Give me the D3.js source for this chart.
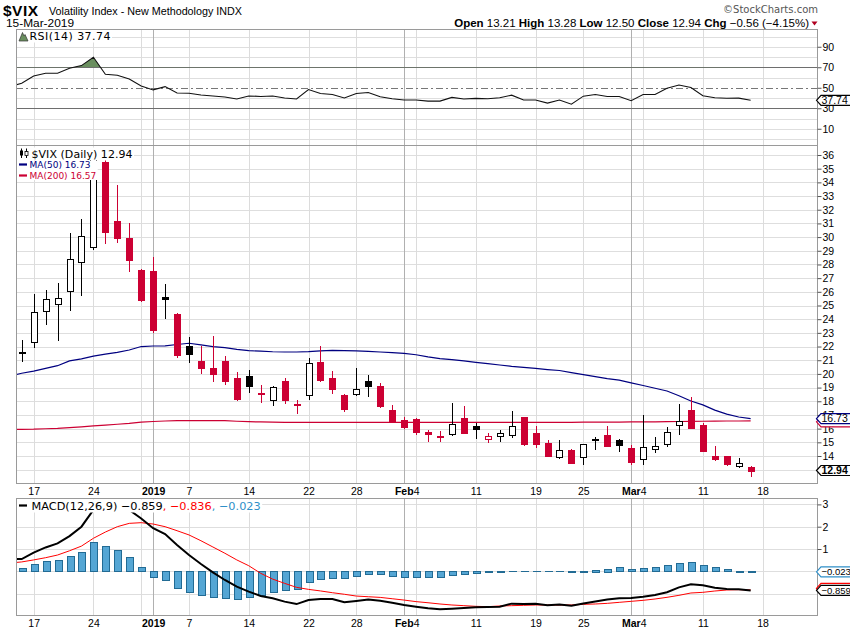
<!DOCTYPE html>
<html>
<head>
<meta charset="utf-8">
<script src="https://cdn.jsdelivr.net/npm/d3@7"></script>
<style>
  body { margin: 0; background: #fff; }
  svg { display: block; }
  .ax text { font-family: "Liberation Sans", Arial, sans-serif; font-size: 10.5px; fill: #000; }
  .lg { font-family: "DejaVu Sans", Verdana, sans-serif; }
  .hd { font-family: "Liberation Sans", Arial, sans-serif; }
</style>
</head>
<body>
<svg id="chart" width="850" height="633"></svg>
<script>
// trading days shown (Dec 13 only feeds the lines that enter from the left edge)
const dates = [
  "2018-12-13","2018-12-14","2018-12-17","2018-12-18","2018-12-19","2018-12-20","2018-12-21","2018-12-24","2018-12-26","2018-12-27",
  "2018-12-28","2018-12-31","2019-01-02","2019-01-03","2019-01-04","2019-01-07","2019-01-08","2019-01-09","2019-01-10","2019-01-11",
  "2019-01-14","2019-01-15","2019-01-16","2019-01-17","2019-01-18","2019-01-22","2019-01-23","2019-01-24","2019-01-25","2019-01-28",
  "2019-01-29","2019-01-30","2019-01-31","2019-02-01","2019-02-04","2019-02-05","2019-02-06","2019-02-07","2019-02-08","2019-02-11",
  "2019-02-12","2019-02-13","2019-02-14","2019-02-15","2019-02-19","2019-02-20","2019-02-21","2019-02-22","2019-02-25","2019-02-26",
  "2019-02-27","2019-02-28","2019-03-01","2019-03-04","2019-03-05","2019-03-06","2019-03-07","2019-03-08","2019-03-11","2019-03-12",
  "2019-03-13","2019-03-14","2019-03-15"
];
// empty slots at the right end of the time axis
const futureDays = ["2019-03-18","2019-03-19","2019-03-20","2019-03-21","2019-03-22"];

const open = [
  null, 21.6, 22.32, 24.63, 25.11, 26.04, 28.23, 29.26, 35.52, 31.21,
  29.94, 27.6, 27.5, 25.62, 24.38, 22.02, 20.97, 20.43, 20.97, 19.7,
  19.83, 18.62, 18.07, 19.48, 17.82, 18.48, 20.87, 19.7, 18.46, 18.51,
  19.48, 19.12, 17.36, 16.66, 16.71, 15.73, 15.43, 15.66, 16.78, 16.2,
  15.2, 15.44, 15.59, 16.85, 15.69, 14.95, 13.98, 14.44, 13.91, 15.22,
  15.54, 15.17, 14.59, 13.76, 14.49, 14.83, 16.32, 17.34, 16.25, 13.98,
  13.98, 13.27, 13.21
];
const high = [
  null, 22.45, 25.85, 26.14, 26.65, 30.31, 31.33, 36.2, 35.78, 33.84,
  31.04, 27.68, 28.58, 26.58, 24.46, 22.68, 22.07, 22.8, 21.28, 20.12,
  20.31, 19.19, 19.1, 19.7, 18.12, 21.17, 22.02, 20.21, 18.5, 20.43,
  19.92, 19.34, 17.73, 16.88, 16.75, 15.93, 15.85, 17.9, 17.66, 16.39,
  15.68, 15.88, 17.28, 16.88, 16.17, 15.17, 15.17, 14.48, 14.9, 15.37,
  16.2, 15.25, 14.81, 17.03, 15.37, 16.1, 17.81, 18.29, 16.42, 14.71,
  14.02, 13.83, 13.28
];
const low = [
  null, 20.85, 21.88, 23.6, 22.43, 24.63, 25.68, 29.08, 29.48, 29.58,
  27.43, 25.28, 22.98, 23.98, 21.15, 20.8, 20.0, 19.44, 19.19, 18.05,
  18.63, 17.9, 17.68, 17.83, 17.1, 18.12, 19.44, 18.56, 17.24, 18.36,
  18.34, 17.49, 16.54, 16.0, 15.56, 15.0, 15.05, 15.49, 15.61, 15.27,
  14.93, 15.0, 15.3, 14.76, 14.59, 13.96, 13.81, 13.44, 13.37, 14.47,
  14.69, 14.32, 13.37, 13.37, 14.25, 14.68, 15.54, 15.98, 14.32, 13.62,
  13.25, 13.15, 12.50
];
const close = [
  null, 21.63, 24.52, 25.5, 25.55, 28.38, 30.11, 36.07, 30.41, 29.96,
  28.34, 25.42, 23.22, 25.45, 21.38, 21.4, 20.47, 19.98, 19.5, 18.19,
  19.07, 18.6, 19.04, 18.06, 17.8, 20.8, 19.52, 18.89, 17.42, 18.87,
  19.13, 17.66, 16.57, 16.14, 15.73, 15.57, 15.38, 16.37, 15.72, 15.97,
  15.43, 15.65, 16.22, 14.91, 14.88, 14.02, 14.46, 13.51, 14.85, 15.17,
  14.7, 14.78, 13.57, 14.63, 14.74, 15.74, 16.59, 16.05, 14.33, 13.77,
  13.41, 13.5, 12.94
];
const ma50 = [
  19.85, 20.05, 20.2, 20.4, 20.6, 20.95, 21.1, 21.3, 21.45, 21.58,
  21.75, 22.0, 22.04, 22.05, 22.15, 22.24, 22.12, 22.0, 21.92, 21.8,
  21.7, 21.66, 21.62, 21.6, 21.6, 21.63, 21.68, 21.72, 21.7, 21.68,
  21.65, 21.6, 21.55, 21.5, 21.4, 21.25, 21.12, 21.04, 20.95, 20.85,
  20.75, 20.65, 20.55, 20.48, 20.4, 20.32, 20.25, 20.1, 19.95, 19.8,
  19.65, 19.55, 19.35, 19.15, 18.95, 18.75, 18.4, 18.02, 17.74, 17.35,
  17.06, 16.85, 16.73
];
const ma200 = [
  15.95, 15.95, 15.96, 15.99, 16.02, 16.07, 16.13, 16.2, 16.26, 16.32,
  16.38, 16.47, 16.52, 16.56, 16.58, 16.59, 16.59, 16.59, 16.58, 16.54,
  16.51, 16.49, 16.47, 16.46, 16.46, 16.46, 16.46, 16.46, 16.46, 16.46,
  16.46, 16.46, 16.46, 16.46, 16.46, 16.46, 16.46, 16.46, 16.46, 16.46,
  16.46, 16.46, 16.46, 16.46, 16.46, 16.46, 16.46, 16.46, 16.47, 16.47,
  16.48, 16.48, 16.49, 16.5, 16.5, 16.51, 16.52, 16.53, 16.54, 16.55,
  16.56, 16.56, 16.57
];
const rsi = [
  51, 54.4, 61.5, 64.1, 64.1, 69, 71.6, 79.8, 63.2, 62.2,
  58.6, 51.8, 47.9, 51.1, 44.9, 44.6, 43, 42, 41, 39,
  42, 41.5, 42, 40, 39, 48.2, 44.4, 43.4, 40, 44.4,
  45.4, 41.2, 39.3, 38, 38, 37, 37, 40.6, 39, 39.6,
  39.3, 40.2, 42.8, 38, 38, 35, 38, 34, 41.8, 43.4,
  41.5, 41.5, 37.4, 43.4, 43.4, 49.5, 52.7, 50.2, 42.2, 40.2,
  39.8, 39.9, 37.74
];
const macd = [
  0.55, 0.55, 0.84, 1.07, 1.25, 1.58, 2.0, 2.75, 2.88, 2.94,
  2.75, 2.37, 1.93, 1.67, 1.18, 0.73, 0.33, -0.05, -0.39, -0.69,
  -0.91, -1.11, -1.21, -1.36, -1.47, -1.29, -1.24, -1.24, -1.39, -1.33,
  -1.26, -1.32, -1.41, -1.51, -1.59, -1.66, -1.705, -1.675, -1.645, -1.615,
  -1.6, -1.586, -1.45, -1.47, -1.45, -1.52, -1.49, -1.54, -1.44, -1.35,
  -1.26, -1.21, -1.2, -1.14, -1.06, -0.94, -0.72, -0.585, -0.63, -0.74,
  -0.79, -0.8, -0.859
];
const signal = [
  0.37, 0.42, 0.51, 0.61, 0.73, 0.92, 1.13, 1.48, 1.76, 2.0,
  2.15, 2.18, 2.12, 2.0, 1.82, 1.63, 1.37, 1.09, 0.81, 0.51,
  0.25, -0.09, -0.35, -0.54, -0.72, -0.81, -0.88, -0.96, -1.03, -1.11,
  -1.14, -1.17, -1.23, -1.29, -1.36, -1.41, -1.466, -1.511, -1.541, -1.571,
  -1.586, -1.556, -1.541, -1.526, -1.511, -1.511, -1.511, -1.511, -1.481, -1.466,
  -1.437, -1.392, -1.347, -1.302, -1.242, -1.167, -1.078, -0.973, -0.943, -0.884,
  -0.839, -0.824, -0.836
];
const hist = [
  null, 0.13, 0.31, 0.45, 0.49, 0.69, 0.85, 1.3, 1.12, 0.94,
  0.64, 0.18, -0.27, -0.4, -0.76, -0.94, -1.08, -1.17, -1.21, -1.26,
  -1.17, -1.08, -0.94, -0.85, -0.81, -0.49, -0.35, -0.3, -0.3, -0.21,
  -0.12, -0.12, -0.21, -0.27, -0.27, -0.27, -0.27, -0.16, -0.12, -0.07,
  -0.04, -0.03, -0.01, 0, 0, -0.005, -0.01, -0.03, 0.03, 0.07,
  0.12, 0.18, 0.09, 0.13, 0.18, 0.27, 0.36, 0.42, 0.27, 0.18,
  0.09, 0.03, -0.023
];

// time axis ticks and grid
const tickDates  = ["2018-12-17","2018-12-24","2019-01-02","2019-01-07","2019-01-14","2019-01-22","2019-01-28",
                    "2019-02-04","2019-02-11","2019-02-19","2019-02-25","2019-03-04","2019-03-11","2019-03-18"];
const tickLabels = ["17","24","2019","7","14","22","28","4","11","19","25","4","11","18"];
const tickPrefix = ["","","","","","","","Feb","","","","Mar","",""];
const weekLines  = ["2018-12-17","2018-12-24","2018-12-31","2019-01-07","2019-01-14","2019-01-22","2019-01-28",
                    "2019-02-04","2019-02-11","2019-02-19","2019-02-25","2019-03-04","2019-03-11","2019-03-18"];
const monthLines = ["2019-01-02","2019-02-01","2019-03-01"];

const priceGrid = d3.range(13, 37);
const priceTicks = d3.range(14, 37);   // 13 sits under the last-close tag
const rsiGrid = d3.range(0, 101, 10);
const rsiTicks = [10, 30, 50, 70, 90];
const macdGrid = [-1, 0, 1, 2, 3];
const macdTicks = [1, 2, 3];

const RED = "#cc0033", NAVY = "#000080", HIST = "#55a6d4", HIST_EDGE = "#226b94";
const X0 = 16, X1 = 818;
const P = {
  rsi:  { top: 29.5,  bottom: 145.5 },
  main: { top: 145.5, bottom: 483.5 },
  macd: { top: 498.5, bottom: 615.5 }
};

const svg = d3.select("#chart");
const defs = svg.append("defs");

const x = d3.scalePoint().domain(dates.concat(futureDays)).range([9.75, 810.4]);
const yRsi = d3.scaleLinear().domain([0, 100]).range([139, 36.5]);
const yPx = d3.scaleLinear().domain([14, 36]).range([456, 155]);
const yMacd = d3.scaleLinear().domain([0, 3]).range([571.3, 504.4]);
const xs = d => Math.round(x(d)) + 0.5;

function clip(id, p) {
  defs.append("clipPath").attr("id", id).append("rect")
    .attr("x", X0).attr("y", p.top).attr("width", X1 - X0).attr("height", p.bottom - p.top);
  return `url(#${id})`;
}

// panel grid
function grid(p, yScale, values) {
  const g = svg.append("g").attr("shape-rendering", "crispEdges");
  g.selectAll(".h").data(values).join("line")
    .attr("x1", X0).attr("x2", X1)
    .attr("y1", d => Math.round(yScale(d)) + 0.5).attr("y2", d => Math.round(yScale(d)) + 0.5)
    .attr("stroke", "#dedede");
  g.selectAll(".w").data(weekLines).join("line")
    .attr("x1", xs).attr("x2", xs).attr("y1", p.top).attr("y2", p.bottom)
    .attr("stroke", "#dcdcdc");
  g.selectAll(".m").data(monthLines).join("line")
    .attr("x1", xs).attr("x2", xs).attr("y1", p.top).attr("y2", p.bottom)
    .attr("stroke", "#b0b0b0");
}
grid(P.rsi, yRsi, rsiGrid.filter(v => v !== 30 && v !== 50 && v !== 70));
grid(P.main, yPx, priceGrid);
grid(P.macd, yMacd, macdGrid);

// ---- RSI panel
const rsiG = svg.append("g").attr("clip-path", clip("cRsi", P.rsi));
[30, 70].forEach(v => rsiG.append("line")
  .attr("x1", X0).attr("x2", X1).attr("y1", Math.round(yRsi(v)) + 0.5).attr("y2", Math.round(yRsi(v)) + 0.5)
  .attr("stroke", "#6e6e6e").attr("shape-rendering", "crispEdges"));
rsiG.append("line")
  .attr("x1", X0).attr("x2", X1).attr("y1", Math.round(yRsi(50)) + 0.5).attr("y2", Math.round(yRsi(50)) + 0.5)
  .attr("stroke", "#777").attr("stroke-dasharray", "7,3,2,3").attr("shape-rendering", "crispEdges");

defs.append("clipPath").attr("id", "cOver").append("rect")
  .attr("x", X0).attr("y", P.rsi.top).attr("width", X1 - X0).attr("height", yRsi(70) - P.rsi.top);
rsiG.append("path").datum(rsi)
  .attr("clip-path", "url(#cOver)")
  .attr("fill", "#6a8f5f")
  .attr("d", d3.area().x((d, i) => x(dates[i])).y0(yRsi(70)).y1(d => yRsi(d)));
rsiG.append("path").datum(rsi)
  .attr("fill", "none").attr("stroke", "#111").attr("stroke-width", 1.1)
  .attr("d", d3.line().x((d, i) => x(dates[i])).y(d => yRsi(d)));

// ---- price panel
const mainG = svg.append("g").attr("clip-path", clip("cMain", P.main));
mainG.append("path").datum(ma200)
  .attr("fill", "none").attr("stroke", RED).attr("stroke-width", 1.2)
  .attr("d", d3.line().x((d, i) => x(dates[i])).y(d => yPx(d)));
mainG.append("path").datum(ma50)
  .attr("fill", "none").attr("stroke", NAVY).attr("stroke-width", 1.2)
  .attr("d", d3.line().x((d, i) => x(dates[i])).y(d => yPx(d)));

const candles = dates.map((d, i) => ({ d, o: open[i], h: high[i], l: low[i], c: close[i], pc: i > 0 ? close[i - 1] : null }))
  .filter(c => c.o != null);
const cg = mainG.selectAll(".candle").data(candles).join("g").attr("shape-rendering", "crispEdges");
const candleColor = c => (c.pc == null || c.c >= c.pc) ? "#000" : RED;
cg.append("line")
  .attr("x1", c => xs(c.d)).attr("x2", c => xs(c.d))
  .attr("y1", c => yPx(c.h)).attr("y2", c => yPx(c.l))
  .attr("stroke", candleColor);
cg.append("rect")
  .attr("x", c => xs(c.d) - 3).attr("width", 6)
  .attr("y", c => Math.round(yPx(Math.max(c.o, c.c))) + 0.5)
  .attr("height", c => Math.max(1, Math.round(Math.abs(yPx(c.o) - yPx(c.c)))))
  .attr("fill", c => c.c > c.o ? "#fff" : candleColor(c))
  .attr("stroke", candleColor);

// ---- MACD panel
const macdG = svg.append("g").attr("clip-path", clip("cMacd", P.macd));
const bars = hist.map((v, i) => ({ d: dates[i], v })).filter(b => b.v != null);
macdG.selectAll(".bar").data(bars).join("rect")
  .attr("shape-rendering", "crispEdges")
  .attr("x", b => xs(b.d) - 3.5).attr("width", 7)
  .attr("y", b => Math.round(Math.min(yMacd(b.v), yMacd(0))) + 0.5)
  .attr("height", b => Math.max(0.01, Math.round(Math.abs(yMacd(b.v) - yMacd(0)))))
  .attr("fill", HIST).attr("stroke", HIST_EDGE);
macdG.append("path").datum(signal)
  .attr("fill", "none").attr("stroke", "#ff0000").attr("stroke-width", 1)
  .attr("d", d3.line().x((d, i) => x(dates[i])).y(d => yMacd(d)));
macdG.append("path").datum(macd)
  .attr("fill", "none").attr("stroke", "#000").attr("stroke-width", 2)
  .attr("d", d3.line().x((d, i) => x(dates[i])).y(d => yMacd(d)));

// ---- legends (white backing like the original)
function backed(g, pad) {
  const b = g.node().getBBox();
  g.insert("rect", ":first-child")
    .attr("x", X0 + 0.5).attr("y", b.y - pad)
    .attr("width", b.x + b.width - X0 + 1).attr("height", b.height + pad * 2)
    .attr("fill", "#fff");
}
// RSI legend
const lr = svg.append("g");
lr.append("path").attr("d", "M19,41 L22.5,32.5 L24,36 L25,34.5 L28,41 Z")
  .attr("fill", "#6a8f5f").attr("stroke", "#333").attr("stroke-width", 0.7);
lr.append("text").attr("class", "lg").attr("x", 29.5).attr("y", 39.5)
  .attr("font-size", 11).attr("textLength", 81).text("RSI(14) 37.74");
backed(lr, 0);

// price legend
const l1 = svg.append("g");
l1.append("line").attr("x1", 21.5).attr("x2", 21.5).attr("y1", 148.5).attr("y2", 158).attr("stroke", "#000");
l1.append("rect").attr("x", 20).attr("y", 150.5).attr("width", 3).attr("height", 5).attr("fill", "#000");
l1.append("line").attr("x1", 26.5).attr("x2", 26.5).attr("y1", 148.5).attr("y2", 158).attr("stroke", "#000");
l1.append("rect").attr("x", 25).attr("y", 151.5).attr("width", 3).attr("height", 4).attr("fill", "#fff").attr("stroke", "#000").attr("stroke-width", 0.8);
l1.append("text").attr("class", "lg").attr("x", 31.5).attr("y", 157.5)
  .attr("font-size", 11).attr("textLength", 101).text("$VIX (Daily) " + d3.format(".2f")(close[close.length - 1]));
backed(l1, 0);
const l2 = svg.append("g");
l2.append("line").attr("x1", 19).attr("x2", 27).attr("y1", 164.5).attr("y2", 164.5).attr("stroke", NAVY).attr("stroke-width", 2.2);
l2.append("text").attr("class", "lg").attr("x", 29.5).attr("y", 168)
  .attr("font-size", 9).attr("fill", NAVY).text("MA(50) " + d3.format(".2f")(ma50[ma50.length - 1]));
l2.append("line").attr("x1", 19).attr("x2", 27).attr("y1", 175.5).attr("y2", 175.5).attr("stroke", RED).attr("stroke-width", 2.2);
l2.append("text").attr("class", "lg").attr("x", 29.5).attr("y", 179)
  .attr("font-size", 9).attr("fill", RED).text("MA(200) " + d3.format(".2f")(ma200[ma200.length - 1]));
backed(l2, -1);

// MACD legend
const lm = svg.append("g");
lm.append("line").attr("x1", 19).attr("x2", 27).attr("y1", 505.5).attr("y2", 505.5).attr("stroke", "#000").attr("stroke-width", 2.2);
const mt = lm.append("text").attr("class", "lg").attr("x", 31.5).attr("y", 509.5).attr("font-size", 11.3);
mt.append("tspan").text("MACD(12,26,9) " + d3.format(".3f")(macd[macd.length - 1]));
mt.append("tspan").attr("fill", "#ff0000").text(", " + d3.format(".3f")(signal[signal.length - 1]));
mt.append("tspan").attr("fill", "#2f8fc8").text(", " + d3.format(".3f")(hist[hist.length - 1]));
backed(lm, 0);

// ---- panel borders
Object.values(P).forEach(p => svg.append("rect")
  .attr("x", X0 + 0.5).attr("y", p.top).attr("width", X1 - X0 - 1).attr("height", p.bottom - p.top)
  .attr("fill", "none").attr("stroke", "#9a9a9a").attr("shape-rendering", "crispEdges"));

// ---- value axes on the right
function valueAxis(scale, values) {
  const g = svg.append("g").attr("class", "ax").attr("transform", `translate(${X1 - 0.5},0)`)
    .call(d3.axisRight(scale).tickValues(values).tickSize(4).tickPadding(1).tickFormat(d3.format("d")));
  g.select(".domain").remove();
  g.selectAll(".tick line").attr("stroke", "#555");
}
valueAxis(yRsi, rsiTicks);
valueAxis(yPx, priceTicks);
valueAxis(yMacd, macdTicks);

// ---- time axes
function timeAxis(yPos) {
  const g = svg.append("g").attr("class", "ax").attr("transform", `translate(0,${yPos})`)
    .call(d3.axisBottom(x).tickValues(tickDates).tickSize(0).tickPadding(0).tickFormat((d, i) => tickLabels[i]));
  g.select(".domain").remove();
  g.selectAll(".tick text").attr("y", 0).attr("dy", "0.35em").each(function(d, i) {
    const t = d3.select(this);
    if (tickLabels[i].length === 4) t.attr("font-weight", "bold");
    if (tickPrefix[i]) {
      const w = this.getComputedTextLength();
      t.text(null).attr("text-anchor", "end").attr("x", w / 2);
      t.append("tspan").attr("font-weight", "bold").text(tickPrefix[i]);
      t.append("tspan").text(tickLabels[i]);
    }
  });
}
timeAxis(491);
timeAxis(623.5);

// ---- last-value tags (a tag hidden behind another keeps only its edge)
function tag(y, txt, color, opts = {}) {
  const g = svg.append("g");
  g.append("path")
    .attr("d", `M${X1 - 1.5},${y} L${X1 + 3},${y - 5} L852,${y - 5} L852,${y + 5} L${X1 + 3},${y + 5} Z`)
    .attr("fill", "#fff").attr("stroke", color).attr("stroke-width", 1.2);
  if (txt) g.append("text").attr("class", "hd").attr("x", X1 + 3.5).attr("y", y).attr("dy", "0.36em")
    .attr("font-size", opts.size || 10.5).attr("font-weight", opts.bold ? "bold" : null).text(txt);
}
const f2 = d3.format(".2f"), f3 = d3.format(".3f");
tag(yRsi(rsi[rsi.length - 1]), f2(rsi[rsi.length - 1]), "#000");
tag(yPx(ma200[ma200.length - 1]) + 1, null, RED);
tag(yPx(ma50[ma50.length - 1]), f2(ma50[ma50.length - 1]), NAVY);
tag(yPx(close[close.length - 1]), f2(close[close.length - 1]), "#000", { bold: true });
tag(yMacd(hist[hist.length - 1]), f3(hist[hist.length - 1]), "#2f8fc8", { size: 9.5 });
tag(yMacd(signal[signal.length - 1]) - 1.5, null, "#ff0000");
tag(yMacd(macd[macd.length - 1]), f3(macd[macd.length - 1]), "#000", { size: 9.5 });

// ---- header
svg.append("text").attr("class", "hd").attr("x", 3).attr("y", 16)
  .attr("font-size", 15.5).attr("font-weight", "bold").attr("textLength", 35).text("$VIX");
svg.append("text").attr("class", "hd").attr("x", 49).attr("y", 14.5)
  .attr("font-size", 11).attr("textLength", 193).attr("lengthAdjust", "spacingAndGlyphs")
  .text("Volatility Index - New Methodology  INDX");
svg.append("text").attr("class", "hd").attr("x", 6).attr("y", 27)
  .attr("font-size", 11.5).attr("textLength", 68).attr("lengthAdjust", "spacingAndGlyphs").text("15-Mar-2019");
svg.append("text").attr("class", "lg").attr("x", X1).attr("y", 13).attr("text-anchor", "end")
  .attr("font-size", 10).attr("fill", "#555").text("\u00A9StockCharts.com");

const n = close.length - 1;
const chg = close[n] - close[n - 1];
const ohlc = [["Open", f2(open[n])], ["High", f2(high[n])], ["Low", f2(low[n])], ["Close", f2(close[n])],
              ["Chg", f2(chg) + " (" + f2(chg / close[n - 1] * 100) + "%)"]];
const ht = svg.append("text").attr("class", "hd").attr("x", 809).attr("y", 26.5)
  .attr("text-anchor", "end").attr("font-size", 11.5);
ohlc.forEach(([k, v], i) => {
  ht.append("tspan").attr("font-weight", "bold").text((i ? " " : "") + k + " ");
  ht.append("tspan").text(v);
});
svg.append("path").attr("d", "M811.5,21.5 L817.5,21.5 L814.5,25.5 Z").attr("fill", "#b00020");
</script>
</body>
</html>
